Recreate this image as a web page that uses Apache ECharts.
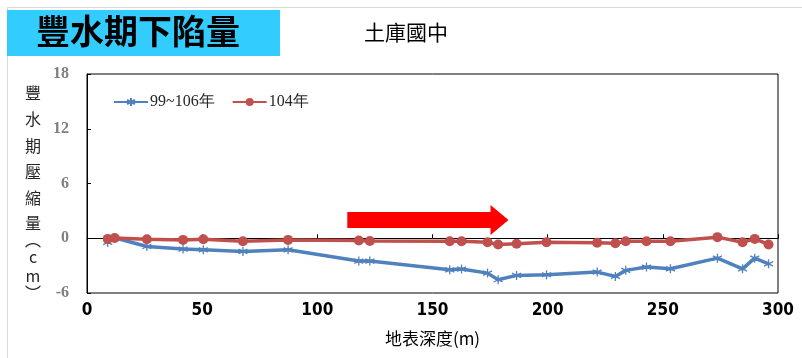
<!DOCTYPE html>
<html>
<head>
<meta charset="utf-8">
<script src="https://cdn.jsdelivr.net/npm/echarts@6/dist/echarts.min.js"></script>
<style>
  html, body { margin: 0; padding: 0; background: #fff; }
  #chart { width: 802px; height: 358px; }
</style>
</head>
<body>
<div id="chart"></div>
<script>
// Survey positions along the section (m)
const depthA = [9, 12, 26, 41.7, 50.5, 67.7, 87.3, 118, 122.8, 157.5, 162.6, 173.9, 178.5, 186.5, 199.5, 221.5, 229.4, 233.9, 242.9, 253.3, 273.7, 284.6, 289.9, 295.9];
// Wet-season compaction, 99~106 (cm)
const series99to106 = [-0.46, 0.05, -0.9, -1.19, -1.27, -1.44, -1.27, -2.5, -2.5, -3.46, -3.38, -3.82, -4.55, -4.07, -4.0, -3.71, -4.18, -3.52, -3.16, -3.35, -2.18, -3.35, -2.18, -2.8];
// Wet-season compaction, 104 (cm)
const series104 = [-0.07, 0.03, -0.1, -0.18, -0.1, -0.32, -0.18, -0.24, -0.3, -0.32, -0.32, -0.43, -0.68, -0.61, -0.43, -0.5, -0.54, -0.32, -0.32, -0.32, 0.12, -0.43, -0.07, -0.68];
const legendNames = ['99~106年', '104年'];
const xTicks = { min: 0, max: 300, step: 50 };
const yTicks = { min: -6, max: 18, step: 6 };
// Vertical caption of the value axis, one glyph per row
const yCaption = ['豐', '水', '期', '壓', '縮', '量', '︵', 'c', 'm', '︶'];
const yCaptionRows = [93, 119, 146, 172, 198, 223, 240, 257, 276, 293];

const BLUE = '#4F81BD';
const RED = '#C0504D';
const asterisk = 'path://M5,0 L5,10 M0.7,2.5 L9.3,7.5 M0.7,7.5 L9.3,2.5';

const chart = echarts.init(document.getElementById('chart'), null, { renderer: 'canvas' });

function pairs(xs, ys) { return xs.map((x, i) => [x, ys[i]]); }

chart.setOption({
  animation: false,
  backgroundColor: '#fff',
  grid: {
    left: 87, top: 74, width: 691, height: 219,
    outerBoundsMode: 'none', containLabel: false,
    show: true, borderColor: '#000', borderWidth: 1, backgroundColor: 'transparent'
  },
  legend: {
    left: 108, top: 89, itemWidth: 34, itemHeight: 10, itemGap: 17,
    data: legendNames,
    textStyle: { fontFamily: 'Liberation Serif', fontSize: 16, color: '#262626', padding: [0, 0, 0, -3] }
  },
  xAxis: {
    type: 'value', min: xTicks.min, max: xTicks.max, interval: xTicks.step,
    name: '地表深度(m)', nameLocation: 'middle', nameGap: 37,
    nameTextStyle: { fontFamily: 'Noto Sans CJK TC', fontSize: 17, color: '#000' },
    axisLine: { show: true, lineStyle: { color: '#000', width: 1 } },
    axisTick: { show: true, inside: true, length: 4, lineStyle: { color: '#000' } },
    splitLine: { show: false },
    axisLabel: { margin: 9, fontFamily: '"Liberation Sans Narrow", "DejaVu Sans Condensed", sans-serif', fontWeight: 'bold', fontSize: 17, color: '#000' }
  },
  yAxis: {
    type: 'value', min: yTicks.min, max: yTicks.max, interval: yTicks.step,
    axisLine: { show: true, lineStyle: { color: '#000', width: 1 } },
    axisTick: { show: true, inside: true, length: 4, lineStyle: { color: '#000' } },
    splitLine: { show: false },
    axisLabel: { margin: 18, fontFamily: 'Liberation Serif', fontWeight: 'bold', fontSize: 16, color: '#7f7f7f' }
  },
  series: [
    {
      name: legendNames[0], type: 'line', data: pairs(depthA, series99to106),
      symbol: asterisk, symbolSize: 9,
      lineStyle: { color: BLUE, width: 3.5 },
      itemStyle: { color: BLUE, borderColor: BLUE, borderWidth: 1.3 },
      z: 2
    },
    {
      name: legendNames[1], type: 'line', data: pairs(depthA, series104),
      symbol: 'circle', symbolSize: 10,
      lineStyle: { color: RED, width: 3.5 },
      itemStyle: { color: RED, borderColor: RED, borderWidth: 0 },
      z: 3
    }
  ]
});

// Frame, title banner, vertical axis caption and direction arrow
const arrowTail = chart.convertToPixel({ gridIndex: 0 }, [113, 2]);
const arrowTip = chart.convertToPixel({ gridIndex: 0 }, [183, 2]);
const ax = arrowTail[0], tx = arrowTip[0], cy = arrowTail[1];
const headLen = 18, shaftHalf = 8, headHalf = 15;

const captionTexts = yCaption.map((ch, i) => ({
  type: 'text', x: 33, y: yCaptionRows[i],
  style: { text: ch, font: '16px "Noto Sans CJK TC"', fill: '#262626', align: 'center', verticalAlign: 'middle' },
  z: 2
}));

chart.setOption({
  graphic: [
    { type: 'rect', shape: { x: 7.5, y: 7.5, width: 800, height: 360 }, style: { fill: 'none', stroke: '#d9d9d9', lineWidth: 1 }, silent: true, z: 0 },
    { type: 'rect', shape: { x: 7, y: 10, width: 273, height: 46 }, style: { fill: '#33CCFF' }, z: 1 },
    { type: 'text', left: 36, top: 14, style: { text: '豐水期下陷量', font: 'bold 34px "Noto Sans CJK TC"', fill: '#000' }, z: 2 },
    { type: 'text', left: 364, top: 22, style: { text: '土庫國中', font: '21px "Noto Sans CJK TC"', fill: '#000' }, z: 2 },
    ...captionTexts,
    {
      type: 'polygon',
      shape: { points: [
        [ax, cy - shaftHalf], [tx - headLen, cy - shaftHalf], [tx - headLen, cy - headHalf], [tx, cy],
        [tx - headLen, cy + headHalf], [tx - headLen, cy + shaftHalf], [ax, cy + shaftHalf]
      ] },
      style: { fill: '#FF0000' }, z: 5
    }
  ]
});
</script>
</body>
</html>
